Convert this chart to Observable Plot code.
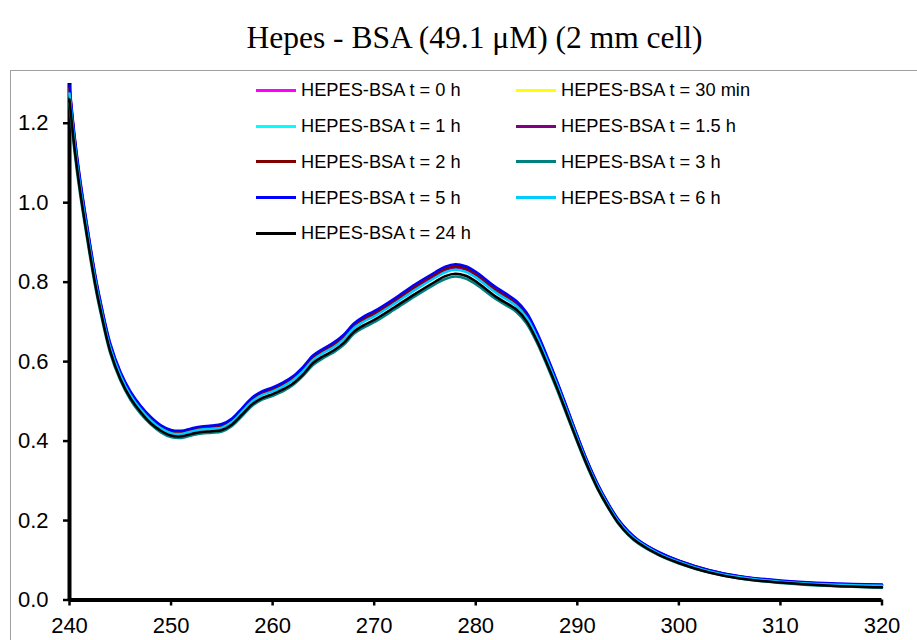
<!DOCTYPE html>
<html>
<head>
<meta charset="utf-8">
<script src="https://cdn.jsdelivr.net/npm/d3@7"></script>
<script src="https://cdn.jsdelivr.net/npm/@observablehq/plot@0.6"></script>
<style>
  html, body { margin: 0; padding: 0; background: #fff; overflow: hidden; }
  #wrap { position: relative; width: 917px; height: 640px; overflow: hidden; }
  #border { position: absolute; left: 10px; top: 70px; width: 1000px; height: 1000px; border: 1px solid #a0a0a0; box-sizing: border-box; }
  #title { position: absolute; left: 16px; top: 22px; width: 917px; text-align: center; font-family: "Liberation Serif", "Times New Roman", serif; font-size: 31.5px; line-height: 31.5px; color: #000; white-space: nowrap; }
  #chart { position: absolute; left: 0; top: 60px; }
  .leg { position: absolute; height: 30px; display: flex; align-items: center; white-space: nowrap; }
  .leg .sw { display: inline-block; width: 40px; height: 3px; }
  .leg .tx { display: inline-block; margin-left: 5px; font-family: "Liberation Sans", Arial, sans-serif; font-size: 19px; line-height: 30px; color: #000; transform: scaleX(0.96); transform-origin: left center; }
</style>
</head>
<body>
<div id="wrap">
  <div id="border"></div>
  <div id="title">Hepes - BSA (49.1 μM) (2 mm cell)</div>
  <div id="chart"></div>
  <div id="legend"></div>
</div>
<script>
// Wavelength (nm)
const wavelengths = [240,240.5,241,241.5,242,242.5,243,244,245,246,247,248,249,250,251,252,253,254,255,256,257,258,259,260,261,262,263,264,265,266,267,268,269,270,272,274,276,277,278,279,280,282,284,285,286,287,288,289,290,291,292,293,294,295,296,298,300,303,306,310,315,320];

// Absorbance per series
const t0h = [1.289,1.163,1.062,0.976,0.895,0.819,0.753,0.642,0.572,0.521,0.486,0.458,0.437,0.425,0.423,0.429,0.434,0.436,0.439,0.453,0.480,0.506,0.522,0.531,0.543,0.560,0.583,0.612,0.629,0.643,0.664,0.692,0.709,0.722,0.754,0.789,0.820,0.834,0.840,0.835,0.821,0.782,0.748,0.719,0.671,0.611,0.547,0.480,0.411,0.346,0.290,0.242,0.202,0.172,0.150,0.119,0.098,0.074,0.059,0.047,0.040,0.037];
const t30min = [1.286,1.160,1.059,0.974,0.893,0.817,0.752,0.641,0.571,0.520,0.485,0.457,0.436,0.424,0.422,0.428,0.433,0.435,0.438,0.453,0.479,0.505,0.521,0.530,0.542,0.558,0.582,0.611,0.628,0.642,0.662,0.690,0.708,0.721,0.753,0.787,0.818,0.833,0.839,0.834,0.820,0.780,0.747,0.718,0.669,0.610,0.546,0.479,0.410,0.346,0.289,0.242,0.202,0.171,0.149,0.119,0.098,0.074,0.058,0.047,0.040,0.037];
const t1h = [1.280,1.155,1.054,0.969,0.889,0.813,0.748,0.638,0.567,0.517,0.482,0.454,0.434,0.422,0.420,0.426,0.431,0.433,0.436,0.450,0.476,0.502,0.518,0.527,0.539,0.555,0.578,0.607,0.624,0.639,0.659,0.687,0.704,0.717,0.749,0.783,0.814,0.828,0.834,0.829,0.815,0.776,0.743,0.714,0.666,0.606,0.543,0.476,0.408,0.343,0.287,0.240,0.200,0.170,0.148,0.117,0.096,0.072,0.057,0.046,0.039,0.036];
const t1_5h = [1.284,1.158,1.057,0.972,0.891,0.816,0.750,0.640,0.569,0.519,0.484,0.456,0.436,0.424,0.422,0.428,0.433,0.435,0.438,0.452,0.478,0.504,0.520,0.529,0.541,0.557,0.580,0.610,0.627,0.641,0.661,0.689,0.706,0.719,0.751,0.786,0.817,0.831,0.837,0.832,0.818,0.779,0.745,0.716,0.668,0.609,0.545,0.478,0.409,0.345,0.289,0.241,0.201,0.171,0.149,0.119,0.098,0.073,0.058,0.047,0.040,0.037];
const t2h = [1.289,1.162,1.061,0.976,0.895,0.819,0.754,0.643,0.572,0.522,0.486,0.458,0.438,0.426,0.424,0.430,0.435,0.437,0.440,0.454,0.480,0.507,0.523,0.532,0.544,0.560,0.583,0.612,0.630,0.644,0.664,0.692,0.709,0.722,0.755,0.789,0.820,0.834,0.840,0.835,0.821,0.782,0.749,0.719,0.671,0.611,0.548,0.480,0.412,0.347,0.291,0.243,0.203,0.173,0.150,0.120,0.099,0.075,0.059,0.048,0.041,0.038];
const t3h = [1.250,1.127,1.029,0.946,0.867,0.793,0.730,0.622,0.553,0.504,0.469,0.442,0.422,0.410,0.408,0.414,0.419,0.421,0.424,0.438,0.463,0.489,0.505,0.514,0.525,0.541,0.564,0.592,0.609,0.623,0.642,0.670,0.686,0.699,0.731,0.764,0.795,0.808,0.814,0.809,0.795,0.757,0.725,0.696,0.649,0.591,0.529,0.463,0.397,0.334,0.279,0.233,0.193,0.164,0.142,0.113,0.092,0.069,0.054,0.043,0.035,0.031];
const t5h = [1.296,1.169,1.068,0.981,0.900,0.824,0.758,0.647,0.575,0.525,0.489,0.461,0.440,0.428,0.426,0.432,0.437,0.439,0.443,0.457,0.483,0.510,0.526,0.535,0.547,0.563,0.587,0.616,0.633,0.648,0.668,0.696,0.714,0.727,0.759,0.794,0.825,0.839,0.845,0.840,0.826,0.787,0.753,0.724,0.675,0.615,0.551,0.483,0.414,0.349,0.292,0.245,0.204,0.174,0.151,0.121,0.099,0.075,0.060,0.049,0.042,0.039];
const t6h = [1.275,1.150,1.050,0.965,0.885,0.810,0.745,0.635,0.565,0.515,0.480,0.452,0.432,0.420,0.418,0.424,0.429,0.431,0.434,0.448,0.474,0.500,0.516,0.525,0.537,0.553,0.576,0.605,0.622,0.636,0.656,0.684,0.701,0.714,0.746,0.780,0.811,0.825,0.831,0.826,0.812,0.773,0.740,0.711,0.663,0.604,0.541,0.474,0.406,0.342,0.286,0.239,0.199,0.169,0.147,0.117,0.096,0.072,0.057,0.046,0.039,0.036];
const t24h = [1.260,1.137,1.038,0.953,0.874,0.800,0.736,0.627,0.557,0.508,0.473,0.445,0.426,0.414,0.412,0.418,0.423,0.425,0.428,0.442,0.467,0.493,0.509,0.518,0.530,0.545,0.568,0.597,0.614,0.628,0.647,0.675,0.692,0.705,0.737,0.770,0.801,0.815,0.821,0.816,0.802,0.763,0.731,0.702,0.654,0.596,0.534,0.467,0.400,0.337,0.281,0.235,0.195,0.165,0.144,0.114,0.093,0.069,0.054,0.044,0.036,0.032];

const seriesNames = ["HEPES-BSA t = 0 h","HEPES-BSA t = 30 min","HEPES-BSA t = 1 h","HEPES-BSA t = 1.5 h","HEPES-BSA t = 2 h","HEPES-BSA t = 3 h","HEPES-BSA t = 5 h","HEPES-BSA t = 6 h","HEPES-BSA t = 24 h"];
const seriesValues = [t0h, t30min, t1h, t1_5h, t2h, t3h, t5h, t6h, t24h];
const seriesColors = ["#FF00FF","#FFFF00","#00FFFF","#800080","#800000","#008080","#0000FF","#00CCFF","#000000"];

const xTicks = [240,250,260,270,280,290,300,310,320];
const yTicks = [0,0.2,0.4,0.6,0.8,1.0,1.2];

const rows = seriesNames.flatMap((name, k) =>
  wavelengths.map((w, i) => ({wl: w, abs: seriesValues[k][i], series: name})));

const chart = Plot.plot({
  width: 917,
  height: 580,
  marginTop: 23,
  marginBottom: 40.5,
  marginLeft: 69,
  marginRight: 35.5,
  style: {fontFamily: "'Liberation Sans', Arial, sans-serif", fontSize: "22px", background: "transparent", color: "#000", overflow: "visible"},
  x: {domain: [240, 320]},
  y: {domain: [0, 1.3]},
  color: {domain: seriesNames, range: seriesColors},
  marks: [
    Plot.axisX({ticks: xTicks, tickSize: 6, tickPadding: 11, strokeWidth: 2.5, tickFormat: d => String(d), label: null, fill: "#000"}),
    Plot.axisY({ticks: yTicks, tickSize: 6, tickPadding: 15, strokeWidth: 2.5, tickFormat: d3.format(".1f"), label: null, fill: "#000"}),
    Plot.ruleX([240], {stroke: "#000", strokeWidth: 4}),
    Plot.ruleY([0], {stroke: "#000", strokeWidth: 4}),
    Plot.line(rows, {x: "wl", y: "abs", z: "series", stroke: "series", strokeWidth: 2.5, curve: "catmull-rom"})
  ]
});
document.getElementById("chart").appendChild(chart);

// legend (two columns)
const legendCols = [256, 516];
const legendRows = [90, 126, 161.5, 197.5, 233];
const legend = document.getElementById("legend");
seriesNames.forEach((name, k) => {
  const col = k % 2, row = Math.floor(k / 2);
  const item = document.createElement("div");
  item.className = "leg";
  item.style.left = legendCols[col] + "px";
  item.style.top = (legendRows[row] - 15) + "px";
  const sw = document.createElement("span");
  sw.className = "sw";
  sw.style.background = seriesColors[k];
  const tx = document.createElement("span");
  tx.className = "tx";
  tx.textContent = name;
  item.appendChild(sw);
  item.appendChild(tx);
  legend.appendChild(item);
});
</script>
</body>
</html>
